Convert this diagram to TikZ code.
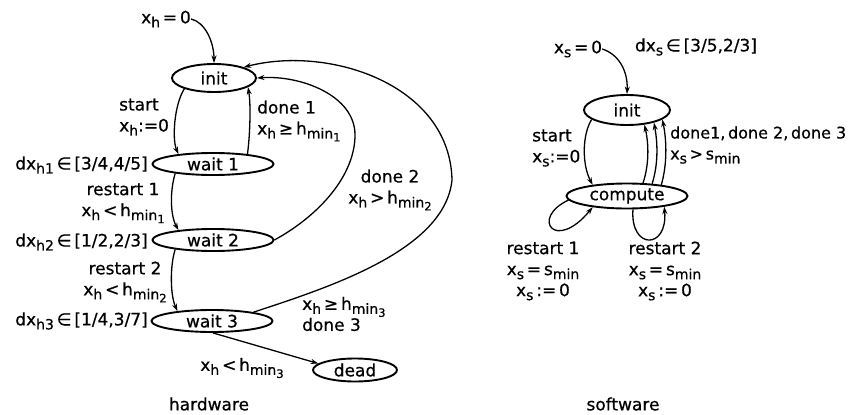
\documentclass[tikz,border=0pt]{standalone}
\usepackage{fontspec}
\setmainfont{DejaVu Sans}[FakeBold=0.6]
\usetikzlibrary{arrows.meta,shapes.geometric}
% lowered index and a second, deeper index level
\newcommand\lsub[1]{\raisebox{-4pt}{\fontsize{14}{14}\selectfont #1}}
\newcommand\llsub[1]{\raisebox{-3pt}{\fontsize{11.5}{11.5}\selectfont #1}}

\begin{document}
\begin{tikzpicture}[x=1pt,y=-1pt,
  every node/.style={font={\fontsize{17}{21}\selectfont}},
  state/.style={draw, ellipse, line width=1.9pt, inner sep=0pt},
  lbl/.style={inner sep=0pt},
  arr/.style={line width=1.3pt, -{Stealth[length=7.5pt,width=5pt]}}]
\useasboundingbox (0,0) rectangle (855,415);

% ---------------- hardware automaton ----------------
\node[state, minimum width=84pt, minimum height=28pt] (hinit) at (214,78) {init};
\node[state, minimum width=121pt, minimum height=22pt] (w1) at (213,164) {wait 1};
\node[state, minimum width=121pt, minimum height=22pt] (w2) at (213,240) {wait 2};
\node[state, minimum width=121pt, minimum height=22pt] (w3) at (212,321) {wait 3};
\node[state, minimum width=84pt, minimum height=23pt] (dead) at (355,370) {dead};

\node[lbl] (xh0) at (166,19) {x\lsub{h}\,=\,0};
\node[lbl, align=left, anchor=west] (lstart) at (119,117) {start\\x\lsub{h}:=0};
\node[lbl, align=left, anchor=west] (ldone1) at (257,121) {done 1\\x\lsub{h}\,≥\,h\lsub{min\llsub{1}}};
\node[lbl, anchor=east] (ldx1) at (148,165) {dx\lsub{h1}\,∈\,[3/4,4/5]};
\node[lbl, align=center] (lr1) at (123,203) {restart 1\\x\lsub{h}\,<\,h\lsub{min\llsub{1}}};
\node[lbl, anchor=east] (ldx2) at (148,242) {dx\lsub{h2}\,∈\,[1/2,2/3]};
\node[lbl, align=center] (lr2) at (125,282) {restart 2\\x\lsub{h}\,<\,h\lsub{min\llsub{2}}};
\node[lbl, anchor=east] (ldx3) at (148,321) {dx\lsub{h3}\,∈\,[1/4,3/7]};
\node[lbl, align=center] (ld2) at (390,190) {done 2\\x\lsub{h}\,>\,h\lsub{min\llsub{2}}};
\node[lbl, align=left, anchor=west] (ld3) at (302,314) {x\lsub{h}\,≥\,h\lsub{min\llsub{3}}\\done 3};
\node[lbl] (ldead) at (242,368) {x\lsub{h}\,<\,h\lsub{min\llsub{3}}};
\node[lbl] (hw) at (209,404) {hardware};

\draw[arr] (xh0.east) .. controls (205,22) and (214,42) .. (hinit.north);
\draw[arr] (hinit.-160) .. controls (174,105) and (172,140) .. (w1.164);
\draw[arr] (w1.16) .. controls (250,135) and (251,105) .. (hinit.-15);
\draw[arr] (w1.-166) .. controls (170,190) and (170,215) .. (w2.164);
\draw[arr] (w2.-166) .. controls (170,265) and (170,295) .. (w3.164);
\draw[arr] (w2.east) .. controls (320,215) and (355,175) .. (355,135)
                     .. controls (355,95) and (300,75) .. (hinit.east);
\draw[arr] (w3.12) .. controls (330,287) and (445,250) .. (452,180)
                   .. controls (450,85) and (330,45) .. (hinit.20);
\draw[arr] (w3.-85) -- (dead.170);

% ---------------- software automaton ----------------
\node[state, minimum width=86pt, minimum height=30pt] (sinit) at (627,110) {init};
\node[state, minimum width=121pt, minimum height=25pt] (comp) at (627,196) {compute};

\node[lbl] (xs0) at (578,49) {x\lsub{s}\,=\,0};
\node[lbl] (ldxs) at (696,47) {dx\lsub{s}\,∈\,[3/5,2/3]};
\node[lbl, align=left, anchor=west] (lsst) at (532,148) {start\\x\lsub{s}:=0};
\node[lbl, align=left, anchor=west, font={\fontsize{16}{21}\selectfont}] (lsd) at (670,145)
  {done1,\,done 2,\,done 3\\x\lsub{s}\,>\,s\lsub{min}};
\node[lbl, align=center] (lsr1) at (543,271) {restart 1\\x\lsub{s}\,=\,s\lsub{min}\\x\lsub{s}\,:=\,0};
\node[lbl, align=center] (lsr2) at (665,271) {restart 2\\x\lsub{s}\,=\,s\lsub{min}\\x\lsub{s}\,:=\,0};
\node[lbl] (sw) at (623,404) {software};

\draw[arr] (xs0.east) .. controls (618,54) and (628,70) .. (sinit.north);
\draw[arr] (sinit.-165) .. controls (582,135) and (582,165) .. (comp.162);
\draw[arr] (comp.39)  .. controls (649,165) and (649,145) .. (sinit.-40);
\draw[arr] (comp.26)  .. controls (658,165) and (658,145) .. (sinit.-25);
\draw[arr] (comp.18)  .. controls (667,165) and (667,142) .. (sinit.-15);
\draw[arr] (comp.-176) .. controls (530,218) and (555,253) .. (comp.-162);
\draw[arr] (comp.-66) .. controls (630,250) and (668,250) .. (comp.-16);
\end{tikzpicture}
\end{document}
